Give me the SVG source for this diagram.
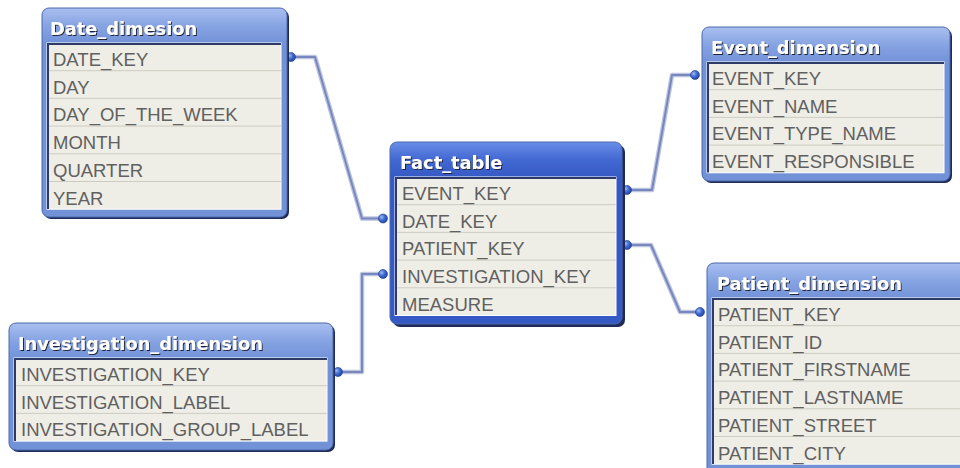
<svg xmlns="http://www.w3.org/2000/svg" width="960" height="468" viewBox="0 0 960 468">
<defs>
<linearGradient id="gLight" gradientUnits="userSpaceOnUse" x1="0" y1="0" x2="0" y2="36">
<stop offset="0" stop-color="#a9bff0"/><stop offset="0.5" stop-color="#86a3e2"/><stop offset="1" stop-color="#7292d8"/>
</linearGradient>
<linearGradient id="gDark" gradientUnits="userSpaceOnUse" x1="0" y1="0" x2="0" y2="36">
<stop offset="0" stop-color="#6a8de8"/><stop offset="0.5" stop-color="#4268d2"/><stop offset="1" stop-color="#3559c4"/>
</linearGradient>
<radialGradient id="gDot" cx="0.35" cy="0.35" r="0.7">
<stop offset="0" stop-color="#9dbcf7"/><stop offset="0.5" stop-color="#3f6ad0"/><stop offset="1" stop-color="#1f45a8"/>
</radialGradient>
<filter id="ts" x="-5%" y="-20%" width="110%" height="150%">
<feDropShadow dx="1" dy="1" stdDeviation="0.4" flood-color="#1a1a2a" flood-opacity="0.95"/>
</filter>
<style>
.shadow{fill:#1e2b58}
.frame{stroke:#4d68ad;stroke-width:1}
.light{fill:url(#gLight)}
.dark{fill:url(#gDark)}
.panel{fill:#efeee6;stroke:#ffffff;stroke-width:1}
.inner{fill:none;stroke:#2e3b66;stroke-width:2}
.sep{stroke:#cdccc2;stroke-width:1}
.title{font-family:"DejaVu Sans",sans-serif;font-weight:bold;font-size:17.8px;fill:#ffffff;filter:url(#ts)}
.row{font-family:"Liberation Sans",Arial,sans-serif;font-size:18.5px;fill:#606060}
.cOut{fill:none;stroke:#bcc4de;stroke-width:4.5;stroke-linejoin:round}
.cIn{fill:none;stroke:#7888bf;stroke-width:2;stroke-linejoin:round}
.dot{fill:url(#gDot);stroke:#1d3a8a;stroke-width:0.6}
</style>
</defs>
<rect width="960" height="468" fill="#ffffff"/>

<g id="connectors">
<path class="cOut" d="M291,57 H315 L362,218.5 H383"/>
<path class="cIn" d="M291,57 H315 L362,218.5 H383"/>
<path class="cOut" d="M338,372 H362 V274 H383"/>
<path class="cIn" d="M338,372 H362 V274 H383"/>
<path class="cOut" d="M627,190 H652 L672,75 H695"/>
<path class="cIn" d="M627,190 H652 L672,75 H695"/>
<path class="cOut" d="M627,245 H651 L680,312 H700"/>
<path class="cIn" d="M627,245 H651 L680,312 H700"/>
<circle class="dot" cx="291" cy="57" r="4.5"/>
<circle class="dot" cx="383" cy="218.5" r="4.5"/>
<circle class="dot" cx="338" cy="372" r="4.5"/>
<circle class="dot" cx="383" cy="274" r="4.5"/>
<circle class="dot" cx="627" cy="190" r="4.5"/>
<circle class="dot" cx="695" cy="75" r="4.5"/>
<circle class="dot" cx="627" cy="245" r="4.5"/>
<circle class="dot" cx="700" cy="312" r="4.5"/>
</g>

<g id="Date_dimesion" transform="translate(42,8)">
<rect class="shadow" x="2" y="2" width="245" height="209" rx="7"/>
<rect class="frame light" width="245" height="209" rx="7"/>
<rect class="panel" x="5" y="35" width="234" height="166.2"/>
<path class="inner" d="M6,201 V36 H239"/>
<line class="sep" x1="7" y1="62.7" x2="239" y2="62.7"/>
<line class="sep" x1="7" y1="90.4" x2="239" y2="90.4"/>
<line class="sep" x1="7" y1="118.1" x2="239" y2="118.1"/>
<line class="sep" x1="7" y1="145.8" x2="239" y2="145.8"/>
<line class="sep" x1="7" y1="173.5" x2="239" y2="173.5"/>
<text class="title" x="8" y="27">Date_dimesion</text>
<text class="row" x="11" y="58">DATE_KEY</text>
<text class="row" x="11" y="85.7">DAY</text>
<text class="row" x="11" y="113.4">DAY_OF_THE_WEEK</text>
<text class="row" x="11" y="141.1">MONTH</text>
<text class="row" x="11" y="168.8">QUARTER</text>
<text class="row" x="11" y="196.5">YEAR</text>
</g>

<g id="Fact_table" transform="translate(390,142)">
<rect class="shadow" x="3" y="3" width="232" height="182" rx="7"/>
<rect class="frame dark" width="232" height="182" rx="7"/>
<rect class="panel" x="5" y="35" width="221" height="138.5"/>
<path class="inner" d="M6,173 V36 H226"/>
<line class="sep" x1="7" y1="62.7" x2="226" y2="62.7"/>
<line class="sep" x1="7" y1="90.4" x2="226" y2="90.4"/>
<line class="sep" x1="7" y1="118.1" x2="226" y2="118.1"/>
<line class="sep" x1="7" y1="145.8" x2="226" y2="145.8"/>
<text class="title" x="10" y="27">Fact_table</text>
<text class="row" x="12" y="58">EVENT_KEY</text>
<text class="row" x="12" y="85.7">DATE_KEY</text>
<text class="row" x="12" y="113.4">PATIENT_KEY</text>
<text class="row" x="12" y="141.1">INVESTIGATION_KEY</text>
<text class="row" x="12" y="168.8">MEASURE</text>
</g>

<g id="Event_dimension" transform="translate(702,27)">
<rect class="shadow" x="2" y="2" width="248" height="154" rx="7"/>
<rect class="frame light" width="248" height="154" rx="7"/>
<rect class="panel" x="5" y="35" width="237" height="110.8"/>
<path class="inner" d="M6,145.5 V36 H242"/>
<line class="sep" x1="7" y1="62.7" x2="242" y2="62.7"/>
<line class="sep" x1="7" y1="90.4" x2="242" y2="90.4"/>
<line class="sep" x1="7" y1="118.1" x2="242" y2="118.1"/>
<text class="title" x="9" y="27">Event_dimension</text>
<text class="row" x="10" y="58">EVENT_KEY</text>
<text class="row" x="10" y="85.7">EVENT_NAME</text>
<text class="row" x="10" y="113.4">EVENT_TYPE_NAME</text>
<text class="row" x="10" y="141.1">EVENT_RESPONSIBLE</text>
</g>

<g id="Patient_dimension" transform="translate(707,263)">
<rect class="shadow" x="2" y="2" width="270" height="212" rx="7"/>
<rect class="frame light" width="270" height="212" rx="7"/>
<rect class="panel" x="5" y="35" width="260" height="166.2"/>
<path class="inner" d="M6,201 V36 H265"/>
<line class="sep" x1="7" y1="62.7" x2="265" y2="62.7"/>
<line class="sep" x1="7" y1="90.4" x2="265" y2="90.4"/>
<line class="sep" x1="7" y1="118.1" x2="265" y2="118.1"/>
<line class="sep" x1="7" y1="145.8" x2="265" y2="145.8"/>
<line class="sep" x1="7" y1="173.5" x2="265" y2="173.5"/>
<text class="title" x="10" y="27">Patient_dimension</text>
<text class="row" x="11" y="58">PATIENT_KEY</text>
<text class="row" x="11" y="85.7">PATIENT_ID</text>
<text class="row" x="11" y="113.4">PATIENT_FIRSTNAME</text>
<text class="row" x="11" y="141.1">PATIENT_LASTNAME</text>
<text class="row" x="11" y="168.8">PATIENT_STREET</text>
<text class="row" x="11" y="196.5">PATIENT_CITY</text>
</g>

<g id="Investigation_dimension" transform="translate(9,323)">
<rect class="shadow" x="2" y="2" width="324" height="127" rx="7"/>
<rect class="frame light" width="324" height="127" rx="7"/>
<rect class="panel" x="5" y="35" width="313" height="83.1"/>
<path class="inner" d="M6,118 V36 H318"/>
<line class="sep" x1="7" y1="62.7" x2="318" y2="62.7"/>
<line class="sep" x1="7" y1="90.4" x2="318" y2="90.4"/>
<text class="title" x="9" y="27">Investigation_dimension</text>
<text class="row" x="12" y="58">INVESTIGATION_KEY</text>
<text class="row" x="12" y="85.7">INVESTIGATION_LABEL</text>
<text class="row" x="12" y="113.4">INVESTIGATION_GROUP_LABEL</text>
</g>
</svg>
